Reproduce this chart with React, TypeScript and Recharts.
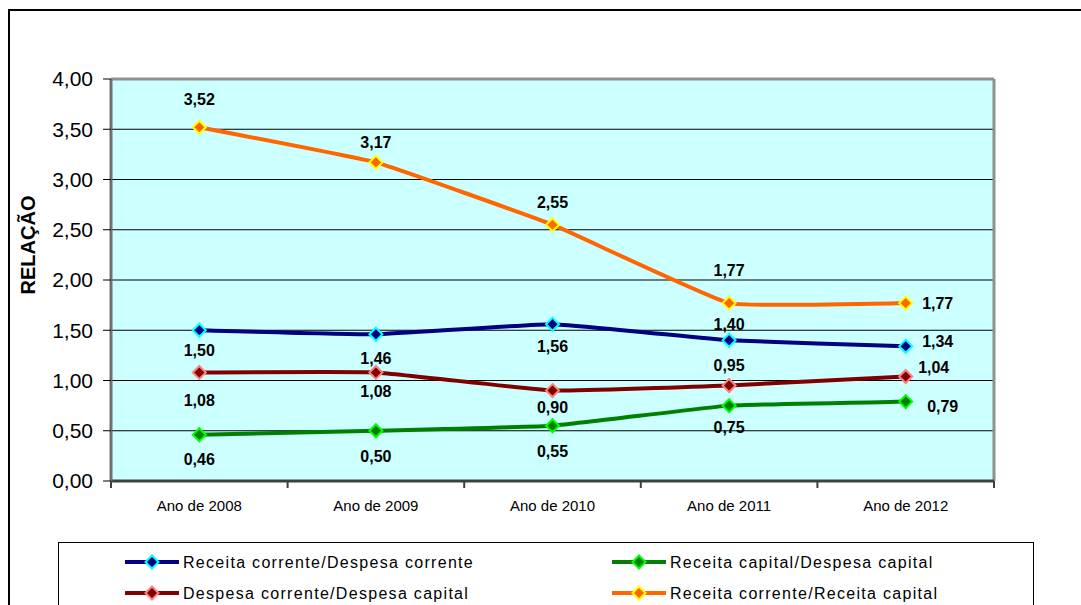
import { LineChart, Line, XAxis, YAxis, CartesianGrid, ReferenceLine, LabelList, Legend } from "recharts";

// anos exibidos no eixo X
const categories = ["Ano de 2008", "Ano de 2009", "Ano de 2010", "Ano de 2011", "Ano de 2012"];

const receitaCorrDespCorr = [1.5, 1.46, 1.56, 1.4, 1.34];
const despCorrDespCap = [1.08, 1.08, 0.9, 0.95, 1.04];
const receitaCapDespCap = [0.46, 0.5, 0.55, 0.75, 0.79];
const receitaCorrReceitaCap = [3.52, 3.17, 2.55, 1.77, 1.77];

const yTicks = [0, 0.5, 1, 1.5, 2, 2.5, 3, 3.5, 4];

const data = categories.map((c, i) => ({
  x: i + 0.5,
  ano: c,
  rcdc: receitaCorrDespCorr[i],
  dcdk: despCorrDespCap[i],
  rkdk: receitaCapDespCap[i],
  rcrk: receitaCorrReceitaCap[i],
}));

// deslocamento dos rótulos em relação ao ponto [dx, dy]
const SERIES = [
  {
    key: "rcdc", name: "Receita corrente/Despesa corrente", color: "#000080", edge: "#00FFFF",
    offsets: [[0, 20], [0, 24], [0, 22], [0, -16], [32, -5]],
  },
  {
    key: "dcdk", name: "Despesa corrente/Despesa capital", color: "#800000", edge: "#FF8080",
    offsets: [[0, 28], [0, 19], [0, 17], [0, -20], [28, -9]],
  },
  {
    key: "rkdk", name: "Receita capital/Despesa capital", color: "#008000", edge: "#00FF00",
    offsets: [[0, 25], [0, 26], [0, 26], [0, 22], [37, 5]],
  },
  {
    key: "rcrk", name: "Receita corrente/Receita capital", color: "#FF6600", edge: "#FFFF00",
    offsets: [[0, -28], [0, -20], [0, -22], [0, -33], [32, 0]],
  },
];

// ordem do Excel: coluna 1 = azul, vermelho; coluna 2 = verde, laranja
const LEGEND_ORDER = ["rcdc", "rkdk", "dcdk", "rcrk"];

const FONT = "'Liberation Sans', Arial, sans-serif";

const fmt = (v: number) => v.toFixed(2).replace(".", ",");

// suavização leve, parecida com a linha suavizada do Excel
const K = 0.05;
function softCurve(context: any) {
  let pts: number[][] = [];
  return {
    areaStart() {},
    areaEnd() {},
    lineStart() {
      pts = [];
    },
    point(x: number, y: number) {
      pts.push([+x, +y]);
    },
    lineEnd() {
      if (!pts.length) return;
      context.moveTo(pts[0][0], pts[0][1]);
      for (let i = 0; i < pts.length - 1; i++) {
        const p0 = pts[i - 1] || pts[i];
        const p1 = pts[i];
        const p2 = pts[i + 1];
        const p3 = pts[i + 2] || p2;
        context.bezierCurveTo(
          p1[0] + (p2[0] - p0[0]) * K,
          p1[1] + (p2[1] - p0[1]) * K,
          p2[0] - (p3[0] - p1[0]) * K,
          p2[1] - (p3[1] - p1[1]) * K,
          p2[0],
          p2[1]
        );
      }
    },
  };
}

function Diamond({ cx, cy, color, edge }: any) {
  if (cx == null || cy == null) return null;
  const r = 6.5;
  return (
    <polygon
      points={`${cx},${cy - r} ${cx + r},${cy} ${cx},${cy + r} ${cx - r},${cy}`}
      fill={color}
      stroke={edge}
      strokeWidth={2}
    />
  );
}

function makeLabel(offsets: number[][]) {
  return (props: any) => {
    const { x, y, value, index } = props;
    const [dx, dy] = offsets[index] || [0, -20];
    return (
      <text x={x + dx} y={y + dy} textAnchor="middle" dominantBaseline="central" fontFamily={FONT} fontWeight="bold" fontSize={16} fill="#000">
        {fmt(Number(value))}
      </text>
    );
  };
}

function XTick({ x, y, payload }: any) {
  const v = payload.value;
  if (Number.isInteger(v)) {
    return <line x1={x} x2={x} y1={y} y2={y + 7} stroke="#404040" strokeWidth={2} />;
  }
  return (
    <text x={x} y={y + 30} textAnchor="middle" fontFamily={FONT} fontSize={15} fill="#000">
      {categories[Math.floor(v)]}
    </text>
  );
}

function LegendBox() {
  const cols = [67, 554];
  const rows = [20, 51];
  return (
    <svg width={976} height={80} style={{ display: "block" }}>
      <rect x={0.5} y={0.5} width={975} height={90} fill="#fff" stroke="#000" strokeWidth={1} />
      {LEGEND_ORDER.map((k, i) => {
        const s = SERIES.find((d) => d.key === k)!;
        const lx = cols[i % 2];
        const ly = rows[Math.floor(i / 2)];
        return (
          <g key={k}>
            <line x1={lx} x2={lx + 54} y1={ly} y2={ly} stroke={s.color} strokeWidth={4} />
            <Diamond cx={lx + 27} cy={ly} color={s.color} edge={s.edge} />
            <text x={lx + 58} y={ly} dominantBaseline="central" fontFamily={FONT} fontSize={16} letterSpacing={1.3} fill="#000">
              {s.name}
            </text>
          </g>
        );
      })}
    </svg>
  );
}

export default function App() {
  return (
    <div style={{ position: "absolute", left: 0, top: 0, width: 1081, height: 605, overflow: "hidden", background: "#fff" }}>
      <div style={{ position: "absolute", left: 8, top: 9, width: 1100, height: 640, border: "2px solid #000" }} />
      <div style={{ position: "absolute", left: 0, top: 0 }}>
        <LineChart width={1081} height={605} data={data} margin={{ top: 79, right: 87, left: 51, bottom: 94 }}>
          <CartesianGrid vertical={false} fill="#CCFFFF" stroke="#000" strokeOpacity={1} />
          <XAxis
            dataKey="x"
            type="number"
            domain={[0, 5]}
            ticks={[0, 0.5, 1, 1.5, 2, 2.5, 3, 3.5, 4, 4.5, 5]}
            interval={0}
            tickLine={false}
            tickSize={0}
            tickMargin={0}
            tick={<XTick />}
            axisLine={{ stroke: "#404040", strokeWidth: 3 }}
            height={30}
          />
          <YAxis
            domain={[0, 4]}
            ticks={yTicks}
            interval={0}
            tickFormatter={fmt}
            width={60}
            tickSize={8}
            tickMargin={10}
            tickLine={{ stroke: "#000" }}
            axisLine={{ stroke: "#707070", strokeWidth: 3 }}
            tick={{ fontSize: 21, fill: "#000", fontFamily: FONT }}
            label={{
              content: ({ viewBox }: any) => (
                <text
                  x={viewBox.x - 23}
                  y={viewBox.y + viewBox.height / 2 - 35}
                  transform={`rotate(-90, ${viewBox.x - 23}, ${viewBox.y + viewBox.height / 2 - 35})`}
                  textAnchor="middle"
                  dominantBaseline="central"
                  fontFamily={FONT}
                  fontWeight="bold"
                  fontSize={20}
                  fill="#000"
                >
                  RELAÇÃO
                </text>
              ),
            }}
          />
          <ReferenceLine y={4} stroke="#909090" strokeWidth={3} />
          <ReferenceLine x={5} stroke="#909090" strokeWidth={3} />
          {SERIES.map((s) => (
            <Line
              key={s.key}
              dataKey={s.key}
              name={s.name}
              type={softCurve as any}
              stroke={s.color}
              strokeWidth={4}
              isAnimationActive={false}
              dot={(p: any) => <Diamond key={p.index} cx={p.cx} cy={p.cy} color={s.color} edge={s.edge} />}
              activeDot={false}
            >
              <LabelList dataKey={s.key} content={makeLabel(s.offsets)} />
            </Line>
          ))}
          <Legend
            layout="vertical"
            align="center"
            verticalAlign="middle"
            wrapperStyle={{ position: "absolute", left: 58, top: 542, width: 976, height: 80 }}
            content={() => <LegendBox />}
          />
        </LineChart>
      </div>
    </div>
  );
}
